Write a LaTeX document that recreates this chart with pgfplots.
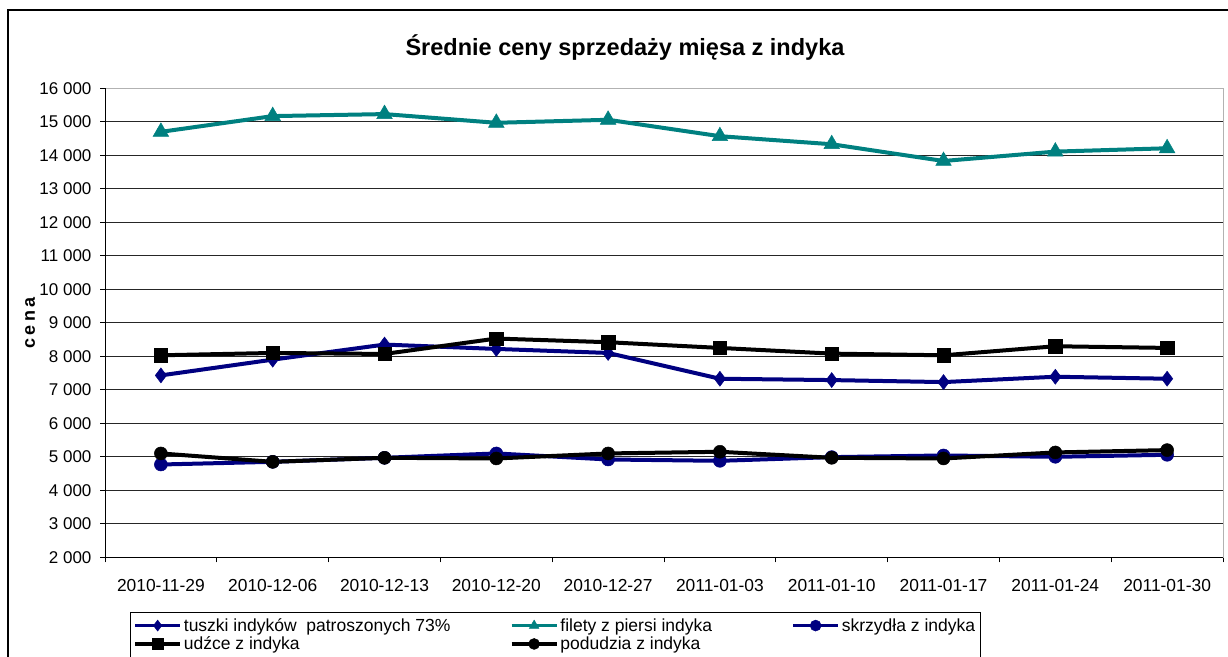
\documentclass[border=0pt]{standalone}
\usepackage{pgfplots}
\pgfplotsset{compat=1.18}
\usepackage{fontspec}
\setmainfont{Liberation Sans}
\definecolor{navyc}{RGB}{0,0,128}
\definecolor{tealc}{RGB}{0,128,128}
\begin{document}
\begin{tikzpicture}[x=1pt,y=1pt]
\begin{axis}[
  at={(105pt,98.7pt)}, anchor=south west,
  scale only axis, width=1118pt, height=469pt,
  xmin=-0.5, xmax=9.5, ymin=2000, ymax=16000,
  ytick={2000,3000,...,16000},
  scaled y ticks=false,
  xtick={0,...,9},
  xticklabels={2010-11-29,2010-12-06,2010-12-13,2010-12-20,2010-12-27,2011-01-03,2011-01-10,2011-01-17,2011-01-24,2011-01-30},
  minor xtick={-0.5,0.5,...,9.5},
  major x tick style={draw=none},
  tick align=outside, tick pos=left,
  major tick length=5pt, minor tick length=5pt,
  tick style={black, line width=0.8pt},
  axis line style={draw=gray!60, line width=0.8pt},
  ymajorgrids, grid style={black!85, line width=0.8pt},
  yticklabel={\pgfmathprintnumber[fixed, precision=0, 1000 sep={\ }, assume math mode=true]{\tick}},
  yticklabel style={font=\fontsize{17}{19}\selectfont, xshift=-5pt},
  xticklabel style={font=\fontsize{17.4}{20}\selectfont, yshift=-14pt},
  legend columns=3,
  legend style={at={(axis description cs:0.02236,-0.1166)}, anchor=north west,
    draw=black, line width=0.8pt, font=\fontsize{17.5}{19}\selectfont,
    row sep=0pt, inner xsep=3pt, inner ysep=4pt,
    /tikz/every even column/.append style={column sep=0pt}},
  legend cell align=left,
  legend image code/.code={%
    \draw[#1, line width=3.5pt] (0pt,0pt) -- (45pt,0pt);
    \draw[#1, line width=0.5pt, mark size=5.5pt] plot coordinates {(22.5pt,0pt)};},
  clip=false,
]
\addplot[navyc, line width=4pt, mark=diamond*, mark size=7.5pt, mark options={solid, line width=0.5pt}]
  coordinates {(0,7430) (1,7900) (2,8350) (3,8220) (4,8100) (5,7330) (6,7290) (7,7230) (8,7390) (9,7330)};
\addlegendentry{\makebox[324pt][l]{tuszki indyków \ patroszonych 73\%}}
\addplot[tealc, line width=4pt, mark=triangle*, mark size=9pt, mark options={solid, line width=0.5pt}]
  coordinates {(0,14700) (1,15170) (2,15230) (3,14970) (4,15060) (5,14570) (6,14330) (7,13830) (8,14110) (9,14210)};
\addlegendentry{\makebox[229pt][l]{filety z piersi indyka}}
\addplot[navyc, line width=4pt, mark=*, mark size=6.5pt, mark options={solid, line width=0.5pt}]
  coordinates {(0,4770) (1,4850) (2,4970) (3,5100) (4,4920) (5,4880) (6,4990) (7,5040) (8,5000) (9,5060)};
\addlegendentry{skrzydła z indyka}
\addplot[black, line width=4pt, mark=square*, mark size=6.7pt, mark options={solid, line width=0.5pt}]
  coordinates {(0,8030) (1,8100) (2,8070) (3,8530) (4,8420) (5,8250) (6,8080) (7,8030) (8,8300) (9,8250)};
\addlegendentry{\makebox[324pt][l]{udźce z indyka}}
\addplot[black, line width=4pt, mark=*, mark size=6.5pt, mark options={solid, line width=0.5pt}]
  coordinates {(0,5100) (1,4850) (2,4970) (3,4950) (4,5100) (5,5150) (6,4970) (7,4950) (8,5130) (9,5200)};
\addlegendentry{\makebox[229pt][l]{podudzia z indyka}}
\draw[black, line width=0.8pt] (rel axis cs:0,0) -- (rel axis cs:0,1);
\draw[black, line width=0.8pt] (rel axis cs:0,0) -- (rel axis cs:1,0);
\end{axis}
\node[font=\bfseries\fontsize{23.5}{26}\selectfont] at (625,608) {Średnie ceny sprzedaży mięsa z indyka};
\node[rotate=90, font=\bfseries\fontsize{18}{20}\selectfont] at (30,333) {c\hspace{3.4pt}e\hspace{3.4pt}n\hspace{3.4pt}a};
\draw[black, line width=1.5pt] (8,-20) -- (8,646) -- (1250,646);
\pgfresetboundingbox
\useasboundingbox (0,0) rectangle (1228,656);
\end{tikzpicture}
\end{document}
